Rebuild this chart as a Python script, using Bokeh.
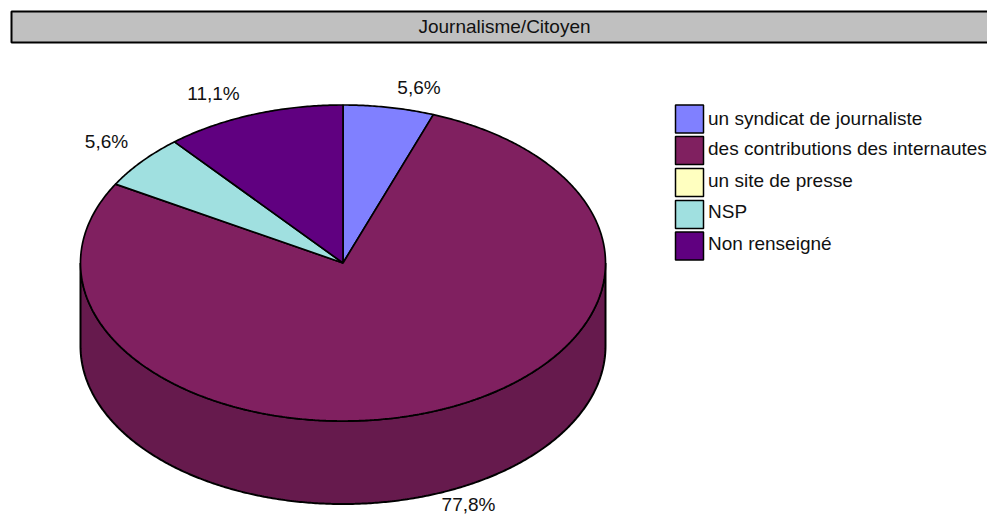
import numpy as np
from bokeh.plotting import figure
from bokeh.models import Range1d
from bokeh.core.properties import value
from bokeh.embed import file_html
from bokeh.resources import INLINE

title_text = "Journalisme/Citoyen"
categories = ["un syndicat de journaliste", "des contributions des internautes",
              "un site de presse", "NSP", "Non renseigné"]
values = [5.6, 77.8, 0.0, 5.6, 11.1]
pct_labels = ["5,6%", "77,8%", "", "5,6%", "11,1%"]
top_colors = ["#8080FF", "#802060", "#FFFFC0", "#A0E0E0", "#600080"]
side_colors = ["#6666CC", "#661A4D", "#CCCC99", "#80B3B3", "#4D0066"]

# layout (page pixels)
FONT = "Liberation Sans"
FS = "19px"
CX, CY, RX, RY, DEPTH = 342.5, 262.5, 262.5, 158.0, 83.0
label_x = [418.5, 468, 0, 106, 213]
label_y = [86.5, 504, 0, 140.5, 92.5]
leg_x, leg_w, leg_h = 689, 28, 28
leg_y = [118.5, 150, 182, 214, 245.5]
leg_text_y = [117.5, 148, 179.5, 211, 242.5]
leg_text_x = 707.5

p = figure(width=987, height=514, x_range=Range1d(0, 987), y_range=Range1d(514, 0),
           output_backend="svg", toolbar_location=None, min_border=0)
p.axis.visible = False
p.grid.visible = False
p.outline_line_color = None

# title band
p.quad(left=[11], right=[1000], top=[11], bottom=[42], fill_color="#C0C0C0",
       line_color="black", line_width=2)
p.text(x=[504], y=[26], text=[title_text], text_font=value(FONT), text_font_size=value(FS),
       text_color="#111111", text_align="center", text_baseline="middle")

# slices (clockwise from 12 o'clock)
total = sum(values)
edges = np.concatenate([[0.0], np.cumsum(values)]) / total * 2 * np.pi


def arc(a0, a1, depth=0.0):
    t = np.linspace(a0, a1, max(2, int((a1 - a0) * 120)))
    return CX + RX * np.sin(t), CY - RY * np.cos(t) + depth


# side wall: only the front half of the rim
for i, v in enumerate(values):
    a0, a1 = max(edges[i], np.pi / 2), min(edges[i + 1], 3 * np.pi / 2)
    if v <= 0 or a1 <= a0:
        continue
    xt, yt = arc(a0, a1)
    xb, yb = arc(a0, a1, DEPTH)
    p.patch(np.concatenate([xt, xb[::-1]]), np.concatenate([yt, yb[::-1]]),
            fill_color=side_colors[i], line_color="black", line_width=2)

# top face
for i, v in enumerate(values):
    if v <= 0:
        continue
    x, y = arc(edges[i], edges[i + 1])
    p.patch(np.concatenate([[CX], x]), np.concatenate([[CY], y]),
            fill_color=top_colors[i], line_color="black", line_width=1.7)

# value labels
for i, lab in enumerate(pct_labels):
    if lab:
        p.text(x=[label_x[i]], y=[label_y[i]], text=[lab], text_font=value(FONT),
               text_font_size=value(FS), text_color="#111111", text_align="center",
               text_baseline="middle")

# legend
p.rect(x=[leg_x] * 5, y=leg_y, width=leg_w, height=leg_h, fill_color=top_colors,
       line_color="black", line_width=1.5)
p.text(x=[leg_text_x] * 5, y=leg_text_y, text=categories, text_font=value(FONT),
       text_font_size=value(FS), text_color="#111111", text_align="left",
       text_baseline="middle")

open("out.html", "w").write(file_html(p, INLINE))
